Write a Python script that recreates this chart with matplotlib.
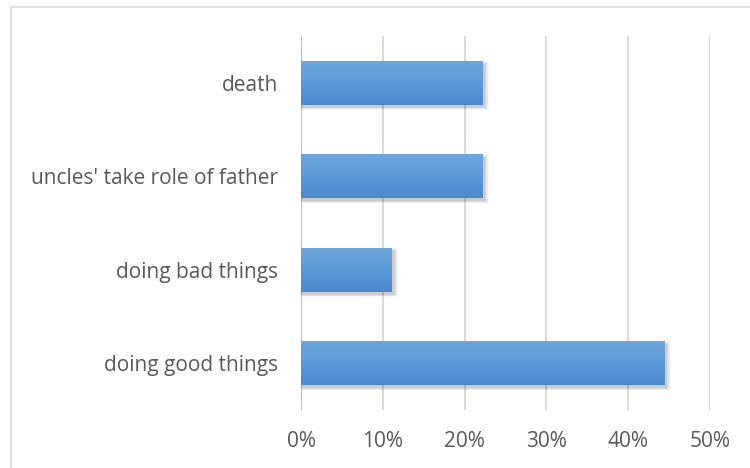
import numpy as np
import matplotlib.pyplot as plt
from matplotlib.patches import Rectangle
from matplotlib.colors import LinearSegmentedColormap

categories = ["death", "uncles' take role of father", "doing bad things", "doing good things"]
values = [2 / 9, 2 / 9, 1 / 9, 4 / 9]
ticks = [0.0, 0.1, 0.2, 0.3, 0.4, 0.5]
tick_labels = ["0%", "10%", "20%", "30%", "40%", "50%"]

W, H = 750, 468
fig = plt.figure(figsize=(W / 100, H / 100), dpi=100)
fig.patch.set_facecolor("white")

# outer chart border
fig.patches.append(Rectangle((11 / W, -0.1), 1.2, 1 - 7 / H + 0.1,
                             transform=fig.transFigure, fill=False,
                             edgecolor="#d9d9d9", linewidth=1.2))

x0, x1 = 301, 710
y0, y1 = 36, 410
ax = fig.add_axes([x0 / W, 1 - y1 / H, (x1 - x0) / W, (y1 - y0) / H])
ax.set_xlim(0, 0.5)
ax.set_ylim(len(categories) - 0.5, -0.5)
for s in ax.spines.values():
    s.set_visible(False)
ax.set_facecolor("none")

ax.set_xticks(ticks)
ax.set_xticklabels(tick_labels)
ax.tick_params(axis="x", length=0, pad=15, labelsize=15, labelcolor="#595959")
ax.set_yticks(range(len(categories)))
ax.set_yticklabels(categories)
ax.tick_params(axis="y", length=0, pad=16.5, labelsize=15, labelcolor="#595959")
for lab in ax.get_xticklabels() + ax.get_yticklabels():
    lab.set_fontfamily("Open Sans")

for t in ticks:
    ax.axvline(t, color="#d9d9d9", linewidth=1.4, zorder=0)
ax.axvline(0, color="#bfbfbf", linewidth=1.4, zorder=0)

cmap = LinearSegmentedColormap.from_list("bar", ["#6ea6dd", "#5a9ad9", "#4a89cc"])
grad = np.linspace(0, 1, 256).reshape(-1, 1)
h = 0.47
for i, v in enumerate(values):
    # soft drop shadow, layered to fake a blur
    for k in range(6):
        grow = 0.001 * k
        sh = Rectangle((0.001 - grow, i - h / 2 + 0.03 - grow * 5),
                       v + 0.0015 + 2 * grow, h + grow * 10,
                       facecolor="black", alpha=0.035, edgecolor="none", zorder=1)
        ax.add_patch(sh)
    rect = Rectangle((0, i - h / 2), v, h, facecolor="none", edgecolor="none", zorder=3)
    ax.add_patch(rect)
    im = ax.imshow(grad, extent=(0, v, i + h / 2, i - h / 2), cmap=cmap,
                   aspect="auto", zorder=3, interpolation="bilinear")
    im.set_clip_path(rect)

ax.set_xlim(0, 0.5)
ax.set_ylim(len(categories) - 0.5, -0.5)

fig.savefig("out.png", dpi=100, facecolor="white")
